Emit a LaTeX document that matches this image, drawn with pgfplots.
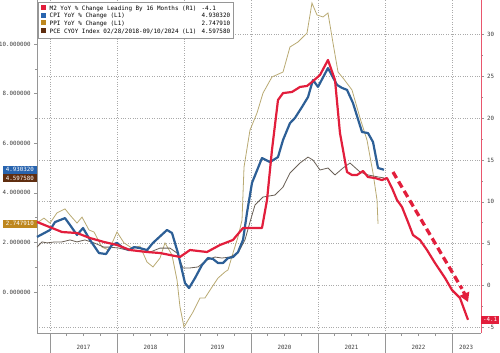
\documentclass[border=0pt]{standalone}
\usepackage{pgfplots}
\pgfplotsset{compat=1.18}
\usetikzlibrary{arrows.meta}
\usepackage{fontspec}
\setmainfont{DejaVu Sans Mono}
\definecolor{m2red}{RGB}{226,30,60}
\definecolor{cpiblue}{RGB}{45,95,150}
\definecolor{cpibox}{RGB}{40,100,175}
\definecolor{ppiline}{RGB}{185,170,115}
\definecolor{ppibox}{RGB}{190,135,30}
\definecolor{pceline}{RGB}{105,95,85}
\definecolor{pcebox}{RGB}{95,45,15}
\definecolor{gridgray}{RGB}{170,170,170}
\definecolor{axgray}{RGB}{150,150,150}
\definecolor{labgray}{RGB}{60,60,60}
\newcommand{\sq}[1]{\textcolor{#1}{\rule{5bp}{5bp}}}
\newcommand{\tf}{\fontsize{5.8bp}{7.7bp}\selectfont}
\newcommand{\lf}{\fontsize{5.95bp}{7.7bp}\selectfont}
\pgfplotsset{
  base/.style={scale only axis, width=444bp, height=333bp,
    xmin=2016.806, xmax=2023.433, clip=false,
    tick align=outside, axis line style={-},
    tick label style={font=\tf, text=labgray},
    every tick/.style={axgray, line width=0.5bp}},
  rscale/.style={ymin=-5.675, ymax=34.11},
  lscale/.style={ymin=-1.653, ymax=11.774},
}
\begin{document}
\begin{tikzpicture}
% right-scale grid and ticks
\begin{axis}[base, rscale, name=A,
  axis y line*=right, axis x line=none,
  y axis line style={m2red!75, line width=0.6bp},
  ytick={-5,0,5,10,15,20,25,30},
  yticklabels={-5,0,5,10,15,20,25,30},
  minor y tick num=1,
  major tick length=3bp, minor tick length=1.8bp,
  ymajorgrids, grid style={gridgray, dotted, line width=0.6bp},
  yticklabel style={xshift=-0.5bp}]
\addplot[draw=none] coordinates {(2017,0)};
\end{axis}
% x axis
\begin{axis}[base, ymin=0, ymax=1,
  axis x line*=bottom, axis y line=none,
  x axis line style={axgray, line width=0.6bp},
  xtick={2017,2018,2019,2020,2021,2022,2023},
  xticklabels={},
  minor x tick num=3,
  major tick length=20bp, minor tick length=3bp,
  xmajorgrids, grid style={gridgray, dotted, line width=0.6bp},
  extra x ticks={2017.5,2018.5,2019.5,2020.5,2021.5,2022.5,2023.21},
  extra x tick labels={2017,2018,2019,2020,2021,2022,2023},
  extra x tick style={major tick length=0pt, grid=none, xticklabel style={yshift=-9bp}}]
\addplot[draw=none] coordinates {(2017,0.5)};
\end{axis}
% left scale series
\begin{axis}[base, lscale,
  axis y line*=left, axis x line=none,
  y axis line style={axgray, line width=0.6bp},
  ytick={0,2,4,6,8,10},
  yticklabels={0.000000,2.000000,4.000000,6.000000,8.000000,10.000000},
  minor y tick num=1,
  major tick length=3bp, minor tick length=1.8bp]
% PPI
\addplot[ppiline, line width=0.8bp] coordinates {
(2016.806,2.78)(2016.910,2.98)(2017.000,2.78)(2017.104,3.19)(2017.224,3.35)(2017.299,3.10)
(2017.403,2.78)(2017.478,3.02)(2017.582,2.50)(2017.657,2.42)(2017.776,1.81)(2017.881,1.69)
(2018.000,2.42)(2018.104,1.98)(2018.224,1.77)(2018.343,1.85)(2018.448,1.21)(2018.537,1.01)
(2018.642,1.37)(2018.716,1.98)(2018.821,1.49)(2018.896,0.48)(2018.940,-0.60)(2019.000,-1.41)
(2019.134,-0.81)(2019.239,-0.24)(2019.313,-0.24)(2019.418,0.20)(2019.507,0.56)(2019.612,0.81)
(2019.657,0.89)(2019.731,1.57)(2019.806,2.22)(2019.866,2.90)(2019.896,5.04)(2019.985,6.53)
(2020.090,7.22)(2020.179,8.02)(2020.313,8.67)(2020.478,8.87)(2020.582,9.88)(2020.701,10.08)
(2020.836,10.44)(2020.910,11.65)(2020.985,11.17)(2021.075,11.09)(2021.149,11.25)(2021.224,10.04)
(2021.299,8.87)(2021.373,8.63)(2021.507,8.15)(2021.627,7.02)(2021.731,6.13)(2021.821,4.80)
(2021.881,3.71)(2021.896,2.75)};
% PCE
\addplot[pceline, line width=0.8bp] coordinates {
(2016.806,1.81)(2016.881,2.02)(2016.955,1.98)(2017.075,2.02)(2017.179,2.02)(2017.299,2.10)
(2017.403,2.02)(2017.522,2.10)(2017.657,1.98)(2017.806,1.81)(2017.896,1.81)(2018.030,1.77)
(2018.149,1.69)(2018.299,1.81)(2018.448,1.69)(2018.493,1.61)(2018.642,1.77)(2018.791,1.77)
(2018.896,1.57)(2018.985,0.97)(2019.090,0.97)(2019.209,1.01)(2019.343,1.29)(2019.463,1.41)
(2019.567,1.37)(2019.687,1.41)(2019.806,1.57)(2019.910,2.10)(2019.985,2.82)(2020.060,3.51)
(2020.179,3.83)(2020.358,3.91)(2020.478,4.23)(2020.582,4.80)(2020.731,5.20)(2020.851,5.44)
(2020.925,5.32)(2021.030,4.92)(2021.149,5.00)(2021.254,4.72)(2021.373,5.00)(2021.478,5.20)
(2021.627,4.84)(2021.746,4.72)(2021.896,4.64)(2021.985,4.60)};
% CPI
\addplot[cpiblue, line width=2.2bp, line join=round] coordinates {
(2016.806,2.22)(2017.000,2.50)(2017.075,2.82)(2017.224,2.98)(2017.299,2.70)(2017.403,2.30)
(2017.493,2.58)(2017.597,2.10)(2017.731,1.57)(2017.836,1.53)(2017.925,1.90)(2018.000,1.98)
(2018.075,1.81)(2018.179,1.69)(2018.254,1.81)(2018.343,1.77)(2018.448,1.69)(2018.537,1.98)
(2018.746,2.50)(2018.821,2.38)(2018.910,1.57)(2019.015,0.36)(2019.075,0.16)(2019.164,0.56)
(2019.269,1.09)(2019.358,1.37)(2019.433,1.33)(2019.507,1.17)(2019.582,1.17)(2019.657,1.37)
(2019.731,1.41)(2019.806,1.61)(2019.881,2.10)(2019.940,3.19)(2020.015,4.40)(2020.164,5.40)
(2020.284,5.24)(2020.403,5.44)(2020.478,6.13)(2020.582,6.81)(2020.657,7.02)(2020.761,7.46)
(2020.851,7.86)(2020.925,8.55)(2021.000,8.27)(2021.149,9.03)(2021.284,8.35)(2021.358,8.23)
(2021.433,8.15)(2021.522,7.62)(2021.657,6.45)(2021.746,6.41)(2021.821,6.05)(2021.896,5.00)
(2021.985,4.93)};
\node[fill=cpibox, text=white, font=\tf, anchor=east, inner xsep=3bp, inner ysep=1.6bp] at (axis cs:2016.806,4.93032) {4.930320};
\node[fill=pcebox, text=white, font=\tf, anchor=east, inner xsep=3bp, inner ysep=1.6bp] at (axis cs:2016.806,4.59758) {4.597580};
\node[fill=ppibox, text=white, font=\tf, anchor=east, inner xsep=3bp, inner ysep=1.6bp] at (axis cs:2016.806,2.74791) {2.747910};
\end{axis}
% right scale series
\begin{axis}[base, rscale, hide axis]
\addplot[m2red, line width=2.2bp, line join=round] coordinates {
(2016.806,7.59)(2017.179,6.39)(2017.403,6.27)(2017.597,5.67)(2017.806,5.20)(2018.000,4.84)
(2018.194,4.24)(2018.448,4.00)(2018.642,3.88)(2018.940,3.41)(2019.090,4.24)(2019.343,4.00)
(2019.537,4.84)(2019.731,5.44)(2019.881,6.87)(2019.985,6.87)(2020.164,6.87)(2020.239,10.21)
(2020.313,16.19)(2020.403,22.16)(2020.478,22.99)(2020.612,23.12)(2020.731,23.72)(2020.836,23.84)
(2020.910,24.31)(2021.030,25.15)(2021.149,26.94)(2021.254,24.55)(2021.328,18.22)(2021.433,13.56)
(2021.507,13.20)(2021.582,13.20)(2021.672,13.68)(2021.746,12.96)(2021.851,12.84)(2021.955,12.60)
(2022.030,12.84)(2022.104,11.65)(2022.179,10.22)(2022.254,9.38)(2022.343,7.59)(2022.418,6.03)
(2022.522,5.44)(2022.627,4.24)(2022.746,2.69)(2022.896,0.90)(2023.000,-0.54)(2023.119,-1.49)
(2023.239,-4.1)};
% dashed trend arrow: shaft, then solid head
\addplot[m2red, line width=3.3bp, dash pattern=on 7bp off 4bp] coordinates {(2022.119,13.56)(2023.150,-0.40)};
\addplot[m2red, line width=3.3bp, -{Triangle[length=9bp,width=10bp]}] coordinates {(2023.170,-0.70)(2023.239,-1.97)};
\node[fill=m2red, text=white, font=\tf, anchor=west, inner xsep=2bp, inner ysep=1.6bp] at (axis cs:2023.433,-4.1) {-4.1};
\node[draw=axgray, fill=white, anchor=north west, inner sep=2.5bp, font=\lf]
  at ([shift={(1bp,-2bp)}]rel axis cs:0,1) {%
  \renewcommand{\arraystretch}{1}%
  \begin{tabular}{@{}l@{\hspace{4bp}}l@{\hspace{5bp}}l@{}}
  \sq{m2red} & M2 YoY \% Change Leading By 16 Months (R1) & -4.1\\
  \sq{cpibox} & CPI YoY \% Change (L1) & 4.930320\\
  \sq{ppibox} & PPI YoY \% Change (L1) & 2.747910\\
  \sq{pcebox} & PCE CYOY Index 02/28/2018-09/10/2024 (L1) & 4.597580
  \end{tabular}};
\end{axis}
\pgfresetboundingbox
\path ([shift={(-37bp,-20bp)}]A.south west) rectangle ([shift={(19bp,0bp)}]A.north east);
\end{tikzpicture}
\end{document}
